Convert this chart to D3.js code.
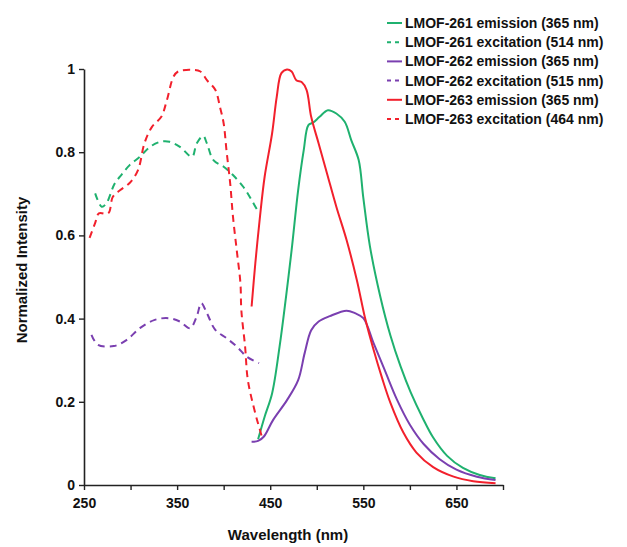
<!DOCTYPE html>
<html>
<head>
<meta charset="utf-8">
<title>LMOF spectra</title>
<script src="https://cdnjs.cloudflare.com/ajax/libs/d3/7.8.5/d3.min.js"></script>
<style>
  body { margin: 0; background: #fff; }
  text { font-family: "Liberation Sans", Arial, sans-serif; font-weight: bold; fill: #111; }
</style>
</head>
<body>
<svg id="chart" width="627" height="547"></svg>
<script>
// spectra: [wavelength nm, normalized intensity]
var em261 = [[437,0.11],[444,0.164],[452,0.22],[460,0.332],[467,0.453],[473,0.565],[480,0.709],[486,0.805],
  [491,0.865],[496,0.871],[503,0.885],[512,0.901],[521,0.893],[530,0.873],[537,0.829],[545,0.781],[550,0.69],
  [557,0.575],[568,0.455],[579,0.36],[590,0.285],[601,0.222],[614,0.16],[625,0.114],[640,0.07],[657,0.041],
  [675,0.024],[692,0.016]];
var ex261 = [[262,0.701],[269,0.669],[274,0.677],[283,0.725],[290,0.745],[299,0.769],[310,0.789],[321,0.813],
  [332,0.825],[342,0.825],[353,0.813],[366,0.789],[371,0.821],[378,0.839],[382,0.821],[389,0.781],[400,0.765],
  [410,0.745],[421,0.717],[430,0.685],[438,0.653]];
var em262 = [[430,0.104],[437,0.106],[443,0.116],[453,0.156],[468,0.204],[480,0.252],[487,0.317],[494,0.372],
  [502,0.393],[514,0.406],[532,0.419],[541,0.413],[550,0.401],[561,0.341],[573,0.276],[586,0.206],
  [600,0.145],[615,0.098],[632,0.062],[650,0.037],[672,0.02],[692,0.012]];
var ex262 = [[258,0.361],[265,0.337],[282,0.334],[296,0.349],[310,0.377],[326,0.397],[341,0.401],[353,0.393],
  [364,0.377],[371,0.405],[376,0.437],[382,0.413],[391,0.373],[403,0.353],[414,0.333],[425,0.308],[438,0.293]];
var em263 = [[430,0.429],[434,0.533],[439,0.645],[444,0.741],[452,0.845],[457,0.933],[462,0.99],[468,0.999],
  [473,0.994],[478,0.973],[484,0.968],[489,0.95],[494,0.885],[502,0.821],[511,0.749],[521,0.669],[532,0.589],
  [543,0.493],[552,0.4],[561,0.325],[570,0.258],[579,0.198],[593,0.126],[607,0.078],[625,0.043],[647,0.02],
  [668,0.009],[692,0.004]];
var ex263 = [[256,0.594],[262,0.63],[266,0.653],[276,0.653],[281,0.693],[289,0.709],[299,0.726],[308,0.757],
  [315,0.822],[323,0.861],[333,0.885],[339,0.925],[346,0.981],[351,0.994],[366,0.998],[375,0.994],[382,0.973],
  [391,0.95],[396,0.909],[400,0.869],[403,0.805],[407,0.725],[410,0.645],[414,0.565],[418,0.485],[419,0.42],
  [423,0.333],[426,0.252],[434,0.172],[439,0.132],[442,0.108]];

var seriesNames = ["LMOF-261 emission (365 nm)", "LMOF-261 excitation (514 nm)",
  "LMOF-262 emission (365 nm)", "LMOF-262 excitation (515 nm)",
  "LMOF-263 emission (365 nm)", "LMOF-263 excitation (464 nm)"];
var seriesData = [em261, ex261, em262, ex262, em263, ex263];
var seriesColors = ["#1fb16f", "#1fb16f", "#7a3fb0", "#7a3fb0", "#f2202c", "#f2202c"];
var seriesDashed = [false, true, false, true, false, true];

var xTicks = [250, 300, 350, 400, 450, 500, 550, 600, 650, 700];
var xLabels = [250, 350, 450, 550, 650];
var yTicks = [0, 0.2, 0.4, 0.6, 0.8, 1];

var svg = d3.select("#chart");

var x = d3.scaleLinear().domain([250, 700]).range([84, 503]);
var y = d3.scaleLinear().domain([0, 1]).range([485, 69]);

// axes
var xAxis = svg.append("g").attr("transform", "translate(0," + y(0) + ")")
  .call(d3.axisBottom(x).tickValues(xTicks).tickSize(5).tickSizeOuter(0)
    .tickFormat(function(d) { return xLabels.indexOf(d) >= 0 ? d : ""; }));
var yAxis = svg.append("g").attr("transform", "translate(" + x(250) + ",0)")
  .call(d3.axisLeft(y).tickValues(yTicks).tickSize(5).tickSizeOuter(0)
    .tickFormat(function(d) { return d; }));

[xAxis, yAxis].forEach(function(a) {
  a.select(".domain").attr("stroke", "#222").attr("stroke-width", 1.6);
  a.selectAll(".tick line").attr("stroke", "#222").attr("stroke-width", 1.4);
  a.selectAll("text").style("font-size", "14px").attr("fill", "#111");
});
xAxis.selectAll("text").attr("dy", "1.1em");
yAxis.selectAll("text").attr("x", -9);

svg.append("text").attr("x", 288).attr("y", 540).attr("text-anchor", "middle")
  .style("font-size", "15px").text("Wavelength (nm)");
svg.append("text").attr("transform", "translate(27,270) rotate(-90)").attr("text-anchor", "middle")
  .style("font-size", "15px").text("Normalized Intensity");

// curves
var line = d3.line().x(function(d) { return x(d[0]); }).y(function(d) { return y(d[1]); })
  .curve(d3.curveCatmullRom.alpha(0.5));

seriesData.forEach(function(s, i) {
  svg.append("path").datum(s)
    .attr("fill", "none")
    .attr("stroke", seriesColors[i])
    .attr("stroke-width", 2)
    .attr("stroke-dasharray", seriesDashed[i] ? "7,5" : null)
    .attr("d", line);
});

// legend
var legend = svg.append("g");
seriesNames.forEach(function(name, i) {
  var ly = 23 + i * 19.2;
  legend.append("line").attr("x1", 387).attr("x2", 402).attr("y1", ly).attr("y2", ly)
    .attr("stroke", seriesColors[i]).attr("stroke-width", 2)
    .attr("stroke-dasharray", seriesDashed[i] ? "4,4" : null);
  legend.append("text").attr("x", 405).attr("y", ly + 5).style("font-size", "14px").text(name);
});
</script>
</body>
</html>
